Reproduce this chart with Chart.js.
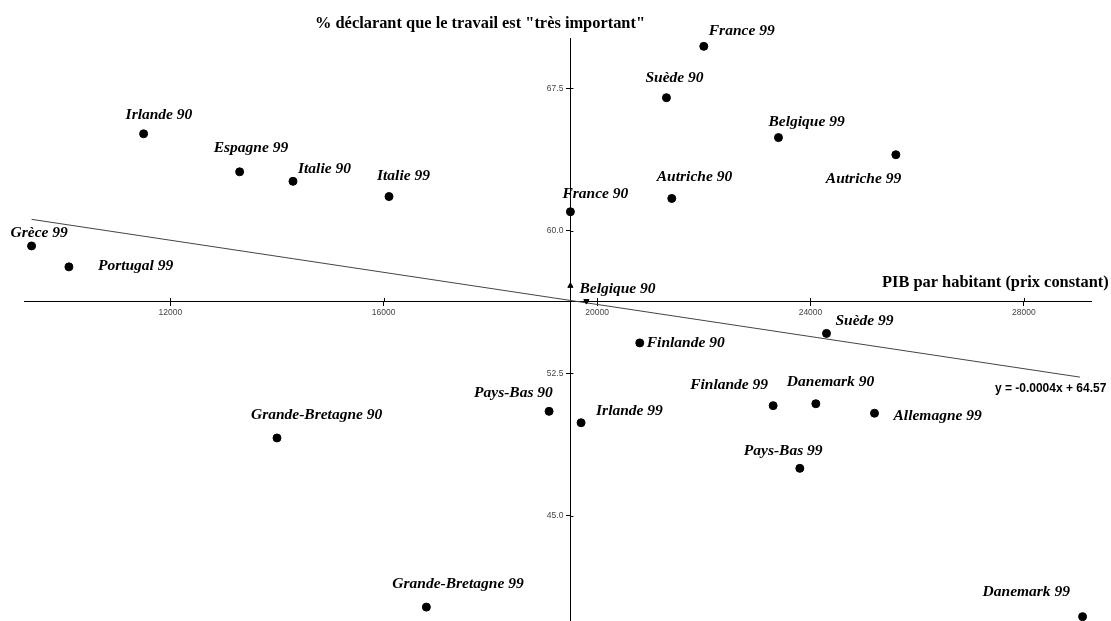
<!DOCTYPE html>
<html>
<head>
<meta charset="utf-8">
<script src="https://cdn.jsdelivr.net/npm/chart.js@4/dist/chart.umd.min.js"></script>
<style>
  body { margin: 0; background: #fff; }
</style>
</head>
<body>
<canvas id="travailChart" width="1111" height="621"></canvas>
<script>
// pays / année d'enquête
const pays = ['Grèce 99', 'Portugal 99', 'Irlande 90', 'Espagne 99', 'Grande-Bretagne 90', 'Italie 90',
  'Italie 99', 'Grande-Bretagne 99', 'Pays-Bas 90', 'France 90', 'Irlande 99', 'Belgique 90',
  'Finlande 90', 'Suède 90', 'Autriche 90', 'France 99', 'Finlande 99', 'Belgique 99',
  'Pays-Bas 99', 'Danemark 90', 'Suède 99', 'Allemagne 99', 'Autriche 99', 'Danemark 99']
// PIB par habitant (prix constant)
const pib = [9400, 10100, 11500, 13300, 14000, 14300, 16100, 16800, 19100, 19500, 19700, 19800,
  20800, 21300, 21400, 22000, 23300, 23400, 23800, 24100, 24300, 25200, 25600, 29100]
// % travail "très important"
const travail = [59.2, 58.1, 65.1, 63.1, 49.1, 62.6, 61.8, 40.2, 50.5, 61.0, 49.9, 56.3,
  54.1, 67.0, 61.7, 69.7, 50.8, 64.9, 47.5, 50.9, 54.6, 50.4, 64.0, 39.7]

const xTicks = [12000, 16000, 20000, 24000, 28000]
const yTicks = [45, 52.5, 60, 67.5]

// droite de régression (extrémités)
const droiteX = [9400, 29050]
const droiteY = [60.6, 52.3]
// petite flèche au-dessus du croisement des axes
const flecheX = [19500]
const flecheY = [57.1]

const titreY = '% déclarant que le travail est "très important"'
const titreX = 'PIB par habitant (prix constant)'
const equation = 'y = -0.0004x + 64.57'

// décalage des étiquettes (px) par rapport au point
const decalages = [[-21, -9], [29, 3], [-18, -15], [-26, -20], [-26, -19], [5, -8],
  [-12, -17], [-34, -19], [-75, -14], [-8, -14], [15, -8], [-7, -8],
  [7, 4], [-21, -16], [-15, -17], [5, -11], [-83, -17], [-10, -12],
  [-56, -13], [-29, -18], [9, -8], [19, 7], [-70, 28], [-100, -21]]

const etiquettes = {
  id: 'etiquettes',
  afterDatasetsDraw(chart) {
    const ctx = chart.ctx
    const sx = chart.scales.x
    const sy = chart.scales.y
    const axeX = sx.getPixelForValue(19500)
    const axeY = sy.getPixelForValue(56.3)
    ctx.save()

    // graduations traversant les axes + valeurs de l'axe vertical
    ctx.strokeStyle = '#000'
    ctx.lineWidth = 1
    ctx.beginPath()
    xTicks.forEach(v => {
      const px = Math.round(sx.getPixelForValue(v)) + 0.5
      ctx.moveTo(px, axeY - 3)
      ctx.lineTo(px, axeY)
    })
    yTicks.forEach(v => {
      const py = Math.round(sy.getPixelForValue(v)) + 0.5
      ctx.moveTo(axeX, py)
      ctx.lineTo(axeX + 3, py)
    })
    ctx.stroke()
    ctx.fillStyle = '#444'
    ctx.font = '8.5px "Liberation Sans"'
    ctx.textAlign = 'right'
    ctx.textBaseline = 'middle'
    yTicks.forEach(v => {
      ctx.fillText(v.toFixed(1), axeX - 7, sy.getPixelForValue(v))
    })

    ctx.fillStyle = '#000'
    ctx.textAlign = 'left'
    ctx.textBaseline = 'alphabetic'
    ctx.font = 'italic bold 15.5px "Liberation Serif"'
    chart.getDatasetMeta(0).data.forEach((p, i) => {
      ctx.fillText(pays[i], p.x + decalages[i][0], p.y + decalages[i][1])
    })
    ctx.font = 'bold 16.4px "Liberation Serif"'
    ctx.fillText(titreY, 315, 28)
    ctx.fillText(titreX, 882, 287)
    const fin = chart.getDatasetMeta(1).data[1]
    ctx.font = 'bold 12px "Liberation Sans"'
    ctx.fillText(equation, fin.x - 85, fin.y + 15)
    ctx.restore()
  }
}

const donnees = pib.map((v, i) => ({x: v, y: travail[i]}))

new Chart(document.getElementById('travailChart'), {
  type: 'scatter',
  data: {
    datasets: [{
      label: 'Pays',
      data: donnees,
      backgroundColor: '#000',
      borderColor: '#000',
      borderWidth: 1,
      pointRadius: pays.map(p => p === 'Belgique 90' ? 3 : 4),
      pointStyle: pays.map(p => p === 'Belgique 90' ? 'triangle' : 'circle'),
      rotation: pays.map(p => p === 'Belgique 90' ? 180 : 0),
      clip: false
    }, {
      type: 'line',
      label: 'Régression',
      data: droiteX.map((v, i) => ({x: v, y: droiteY[i]})),
      borderColor: '#444',
      borderWidth: 1,
      pointRadius: 0,
      fill: false
    }, {
      label: 'Flèche',
      data: flecheX.map((v, i) => ({x: v, y: flecheY[i]})),
      backgroundColor: '#000',
      borderColor: '#000',
      pointStyle: 'triangle',
      pointRadius: 3
    }]
  },
  options: {
    responsive: false,
    animation: false,
    devicePixelRatio: 1,
    layout: { autoPadding: false, padding: { left: 24, right: 20, top: 38, bottom: 0 } },
    plugins: { legend: { display: false }, tooltip: { enabled: false } },
    scales: {
      x: {
        type: 'linear',
        min: 9258,
        max: 29258,
        position: { y: 56.3 },
        afterBuildTicks: s => { s.ticks = xTicks.map(v => ({value: v})) },
        afterFit: s => { s.paddingLeft = 0; s.paddingRight = 0 },
        ticks: { callback: v => String(v), color: '#444', font: { family: 'Liberation Sans', size: 8.5 }, padding: 2 },
        grid: { drawOnChartArea: false, tickLength: 4, color: '#000' },
        border: { color: '#000', width: 1 }
      },
      y: {
        type: 'linear',
        min: 39.47,
        max: 70.14,
        position: { x: 19500 },
        afterBuildTicks: s => { s.ticks = yTicks.map(v => ({value: v})) },
        afterFit: s => { s.paddingTop = 0; s.paddingBottom = 0 },
        ticks: { display: false },
        grid: { drawOnChartArea: false, tickLength: 4, color: '#000' },
        border: { color: '#000', width: 1 }
      }
    }
  },
  plugins: [etiquettes]
})
</script>
</body>
</html>
